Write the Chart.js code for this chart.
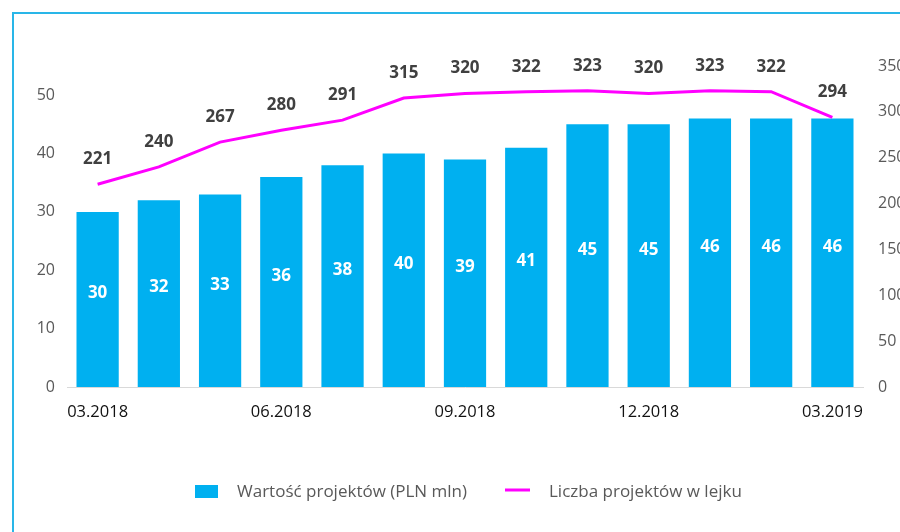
<!DOCTYPE html>
<html><head><meta charset="utf-8">
<script src="https://cdn.jsdelivr.net/npm/chart.js@4"></script>
<style>html,body{margin:0;padding:0;background:#fff}#wrap{width:900px;height:532px;position:relative}</style>
</head><body><div id="wrap"><canvas id="c" width="900" height="532"></canvas></div>
<script>
const categories = ['03.2018','04.2018','05.2018','06.2018','07.2018','08.2018','09.2018','10.2018','11.2018','12.2018','01.2019','02.2019','03.2019'];
const shownTicks = ['03.2018','06.2018','09.2018','12.2018','03.2019'];
const projectValue = [30,32,33,36,38,40,39,41,45,45,46,46,46];
const projectCount = [221,240,267,280,291,315,320,322,323,320,323,322,294];
const leftTicks = [0,10,20,30,40,50];
const rightTicks = [0,50,100,150,200,250,300,350];
const seriesNames = ['Wartość projektów (PLN mln)','Liczba projektów w lejku'];

const FONT = '"Open Sans", "Noto Sans", sans-serif';
const BLUE = '#00B0F0', MAG = '#FF00FF';

const deco = {
  id:'deco',
  beforeDraw(chart){
    const ctx = chart.ctx;
    ctx.save();
    ctx.strokeStyle = '#29B6E8'; ctx.lineWidth = 2;
    ctx.beginPath(); ctx.moveTo(13, 532); ctx.lineTo(13, 13); ctx.lineTo(900, 13); ctx.stroke();
    ctx.restore();
  },
  afterDraw(chart){
    const ctx = chart.ctx;
    ctx.save();
    const mBar = chart.getDatasetMeta(1);
    ctx.font = 'bold 17px ' + FONT; ctx.fillStyle = '#fff'; ctx.textAlign='center'; ctx.textBaseline='middle';
    mBar.data.forEach((b,i)=>{ const mid=(b.y+b.base)/2 - 6; ctx.fillText(String(projectValue[i]), b.x, mid); });
    const mLine = chart.getDatasetMeta(0);
    ctx.font = 'bold 17px ' + FONT; ctx.fillStyle = '#404040';
    mLine.data.forEach((p,i)=>{ ctx.fillText(String(projectCount[i]), p.x, p.y - 25); });
    // legend
    ctx.fillStyle = BLUE; ctx.fillRect(195, 485, 23, 13);
    ctx.font = '17px ' + FONT; ctx.fillStyle = '#595959'; ctx.textAlign='left'; ctx.textBaseline='middle';
    ctx.fillText(seriesNames[0], 237, 492);
    ctx.strokeStyle = MAG; ctx.lineWidth = 3; ctx.beginPath(); ctx.moveTo(505, 490); ctx.lineTo(530, 490); ctx.stroke();
    ctx.fillText(seriesNames[1], 549, 492);
    ctx.restore();
  }
};

new Chart(document.getElementById('c'), {
  data:{
    labels: categories,
    datasets:[
      {type:'line', label: seriesNames[1], data: projectCount, yAxisID:'y1', borderColor: MAG, backgroundColor: MAG, borderWidth:3, pointRadius:0, tension:0, order:0},
      {type:'bar', label: seriesNames[0], data: projectValue, yAxisID:'y', backgroundColor: BLUE, borderWidth:0, barPercentage:0.69, categoryPercentage:1, order:1}
    ]
  },
  options:{
    responsive:false, animation:false,
    layout:{padding:{top:66, left:0, right:0, bottom:0}},
    plugins:{legend:{display:false}, tooltip:{enabled:false}},
    scales:{
      x:{
        grid:{display:false, drawTicks:false},
        border:{display:true, color:'#D9D9D9', width:1},
        ticks:{autoSkip:false, maxRotation:0, padding:15, color:'#111', font:{family:FONT, size:16.5},
          callback(v){ const l = categories[v]; return shownTicks.includes(l) ? l : ''; }},
        afterFit(s){ s.height = 145; }
      },
      y:{
        position:'left', min:0, max:55,
        grid:{display:false, drawTicks:false}, border:{display:false},
        ticks:{padding:12, color:'#595959', font:{family:FONT, size:16}},
        afterBuildTicks(s){ s.ticks = leftTicks.map(v=>({value:v})); },
        afterFit(s){ s.width = 67; }
      },
      y1:{
        position:'right', min:0, max:350,
        grid:{display:false, drawTicks:false}, border:{display:false},
        ticks:{padding:15, color:'#595959', font:{family:FONT, size:16}},
        afterBuildTicks(s){ s.ticks = rightTicks.map(v=>({value:v})); },
        afterFit(s){ s.width = 37; }
      }
    }
  },
  plugins:[deco]
});
</script></body></html>
